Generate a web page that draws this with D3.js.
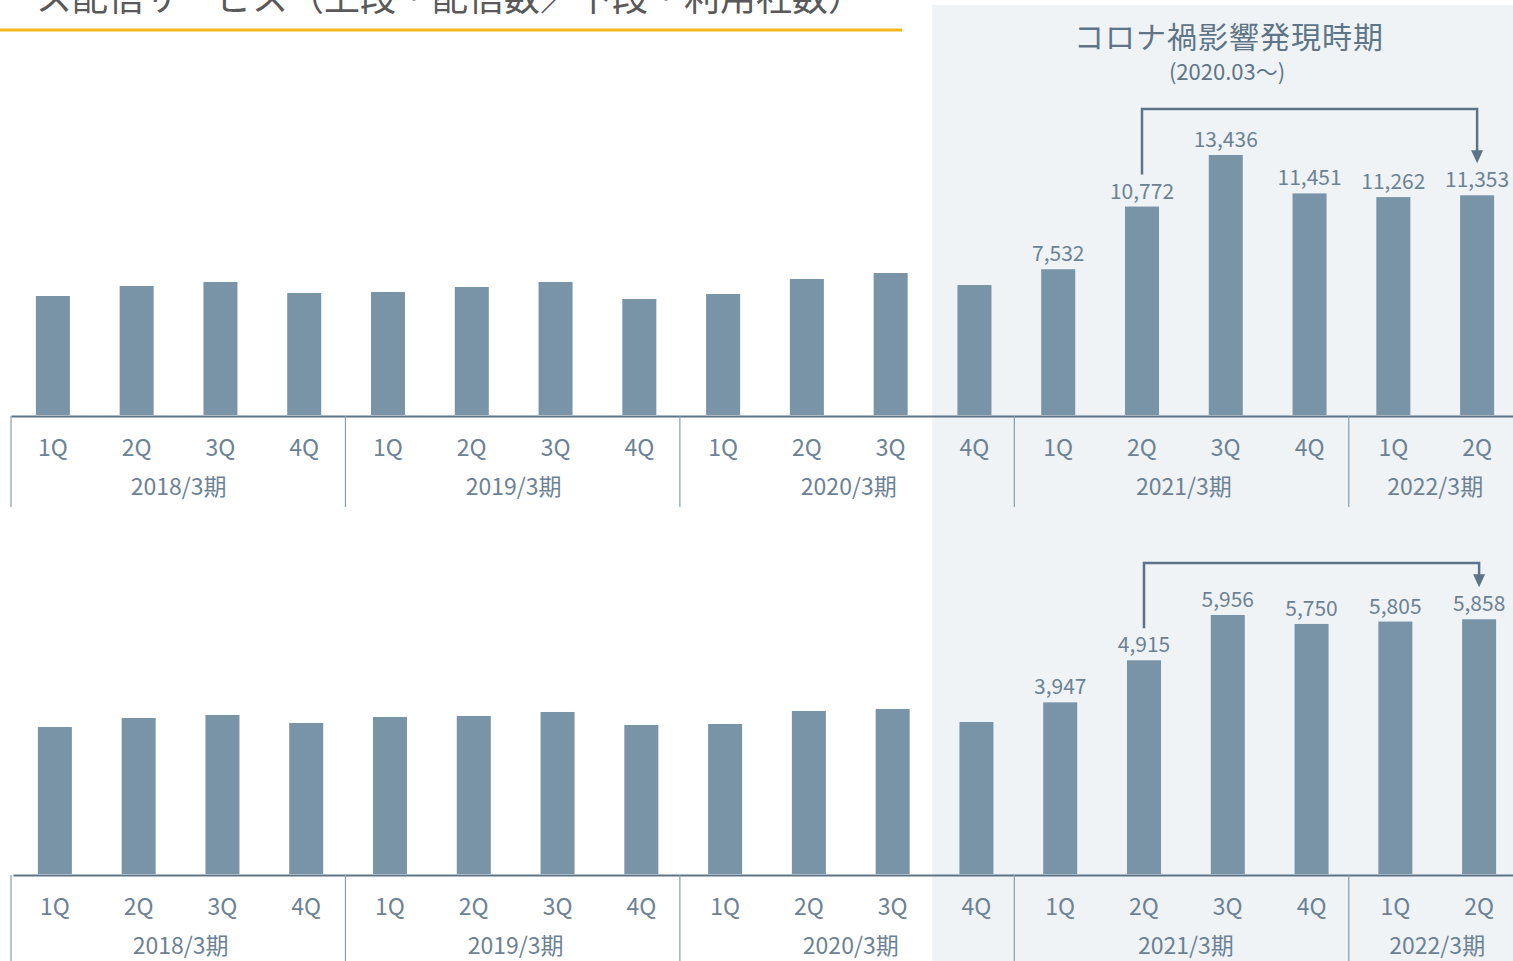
<!DOCTYPE html>
<html>
<head>
<meta charset="utf-8">
<script src="https://cdn.jsdelivr.net/npm/d3@7/dist/d3.min.js"></script>
<style>
  body { margin: 0; background: #fff; overflow: hidden; }
  svg { display: block; }
  text { font-family: "Noto Sans CJK JP", "Noto Sans", sans-serif; }
</style>
</head>
<body>
<div id="chart"></div>
<script>
// ------------- DATA ------------- //
var categories = ["18-1Q","18-2Q","18-3Q","18-4Q","19-1Q","19-2Q","19-3Q","19-4Q",
                  "20-1Q","20-2Q","20-3Q","20-4Q","21-1Q","21-2Q","21-3Q","21-4Q",
                  "22-1Q","22-2Q"];
var quarters = ["1Q","2Q","3Q","4Q","1Q","2Q","3Q","4Q","1Q","2Q","3Q","4Q",
                "1Q","2Q","3Q","4Q","1Q","2Q"];
var periods = ["2018/3期","2019/3期","2020/3期","2021/3期","2022/3期"];
var periodStart = [0, 4, 8, 12, 16];
// 上段：配信数
var deliveries = [6150, 6667, 6873, 6305, 6357, 6615, 6873, 5995, 6253, 7028, 7338, 6718,
                  7532, 10772, 13436, 11451, 11262, 11353];
// 下段：利用社数
var companies = [3380, 3588, 3657, 3473, 3611, 3634, 3726, 3427, 3450, 3749, 3795, 3496,
                 3947, 4915, 5956, 5750, 5805, 5858];
var firstLabeled = 12;   // 値ラベルは2021/3期 1Q から
var covidStart = 11;     // コロナ禍影響発現時期 (2020.03〜) = 2020/3期 4Q
var arrowFrom = 13, arrowTo = 17;

// ------------- SETUP ------------- //
var width = 1513, height = 961;
var barColor = "#7a94a7";
var lineColor = "#5d7488";
var textColor = "#6c8294";

var svg = d3.select("#chart").append("svg")
  .attr("width", width)
  .attr("height", height);

var fmt = d3.format(",");

// scale used for the period separators and the shaded area
var xSep = d3.scaleBand().domain(categories).range([11, 1516])
  .paddingInner(0.594).paddingOuter(0.297);
var sepHalf = (xSep.step() - xSep.bandwidth()) / 2;

svg.append("rect")
  .attr("x", xSep(categories[covidStart]) - sepHalf + 1.5)
  .attr("y", 5)
  .attr("width", width)
  .attr("height", height)
  .attr("fill", "#eff3f6");

// title (top is cut by the page edge, as in the original)
svg.append("text")
  .attr("x", 36).attr("y", 11)
  .attr("font-size", 36)
  .attr("fill", "#595959")
  .text("ス配信サービス（上段・配信数／下段・利用社数）");

svg.append("line")
  .attr("x1", 0).attr("x2", 902)
  .attr("y1", 30).attr("y2", 30)
  .attr("stroke", "#f4b81c")
  .attr("stroke-width", 3);

svg.append("text")
  .attr("x", 1229).attr("y", 48)
  .attr("text-anchor", "middle")
  .attr("font-size", 30)
  .attr("letter-spacing", 1)
  .attr("fill", "#5e7588")
  .text("コロナ禍影響発現時期");

svg.append("text")
  .attr("x", 1227).attr("y", 80)
  .attr("text-anchor", "middle")
  .attr("font-size", 22)
  .attr("fill", "#5e7588")
  .text("(2020.03〜)");

// ------------- ONE PANEL ------------- //
function drawPanel(values, x0, x1, base, topOfMax, bracketY) {
  var x = d3.scaleBand().domain(categories).range([x0, x1])
    .paddingInner(0.594).paddingOuter(0.297);
  var y = d3.scaleLinear().domain([0, d3.max(values)]).range([base, topOfMax]);
  var cx = function(i) { return x(categories[i]) + x.bandwidth() / 2; };

  var g = svg.append("g");

  g.selectAll(".bar").data(values).enter().append("rect")
    .attr("class", "bar")
    .attr("x", function(d, i) { return x(categories[i]); })
    .attr("y", function(d) { return y(d); })
    .attr("width", x.bandwidth())
    .attr("height", function(d) { return y(0) - y(d); })
    .attr("fill", barColor);

  // value labels
  g.selectAll(".val").data(values).enter()
    .filter(function(d, i) { return i >= firstLabeled; })
    .append("text")
    .attr("class", "val")
    .attr("x", function(d, i) { return cx(i + firstLabeled); })
    .attr("y", function(d) { return y(d) - 8; })
    .attr("text-anchor", "middle")
    .attr("font-size", 21)
    .attr("fill", textColor)
    .text(function(d) { return fmt(d); });

  // axis with quarter labels
  var axis = g.append("g")
    .attr("transform", "translate(0," + (base + 1) + ")")
    .call(d3.axisBottom(x).tickSize(0).tickSizeOuter(0)
      .tickFormat(function(d, i) { return quarters[i]; }));
  axis.select(".domain").attr("stroke", lineColor).attr("stroke-width", 2);
  axis.selectAll("text")
    .attr("y", 40).attr("dy", null)
    .attr("font-size", 23)
    .attr("fill", textColor)
    .style("font-family", '"Noto Sans CJK JP", "Noto Sans", sans-serif');

  // period separators + labels
  g.selectAll(".sep").data(periodStart).enter().append("line")
    .attr("x1", function(d) { return xSep(categories[d]) - sepHalf; })
    .attr("x2", function(d) { return xSep(categories[d]) - sepHalf; })
    .attr("y1", base + 1).attr("y2", base + 92)
    .attr("stroke", "#8a9dac").attr("stroke-width", 1.2);

  g.selectAll(".per").data(periods).enter().append("text")
    .attr("x", function(d, i) {
      var s = periodStart[i];
      var e = Math.min(s + 3, categories.length - 1);
      return (cx(s) + cx(e)) / 2;
    })
    .attr("y", base + 80)
    .attr("text-anchor", "middle")
    .attr("font-size", 23)
    .attr("fill", textColor)
    .text(function(d) { return d; });

  // bracket arrow 2021/3期 2Q -> 2022/3期 2Q
  var xa = cx(arrowFrom), xb = cx(arrowTo);
  var yStart = y(values[arrowFrom]) - 32;
  var yTip = y(values[arrowTo]) - 32;
  g.append("path")
    .attr("d", "M" + xa + "," + yStart + "V" + bracketY + "H" + xb + "V" + (yTip - 12))
    .attr("fill", "none")
    .attr("stroke", lineColor)
    .attr("stroke-width", 2.5);
  g.append("path")
    .attr("d", "M" + (xb - 6) + "," + (yTip - 13) + "L" + (xb + 6) + "," + (yTip - 13) +
               "L" + xb + "," + yTip + "Z")
    .attr("fill", lineColor);
}

drawPanel(deliveries, 11, 1519, 415, 155, 109);
drawPanel(companies, 13, 1521, 874, 615, 563);
</script>
</body>
</html>
